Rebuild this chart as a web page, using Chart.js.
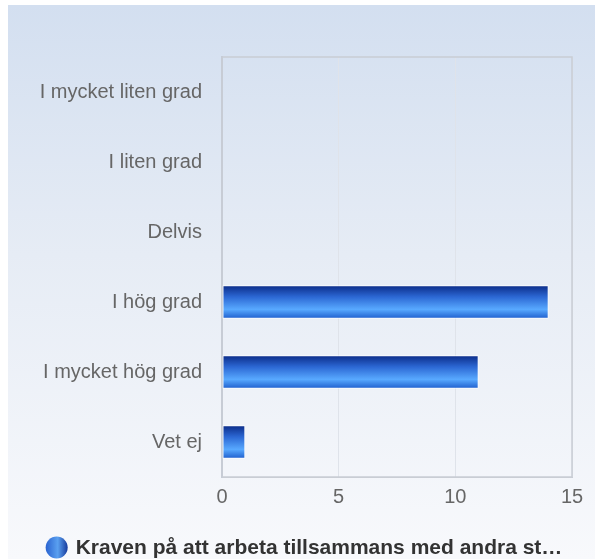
<!DOCTYPE html>
<html>
<head>
<meta charset="utf-8">
<script src="https://cdn.jsdelivr.net/npm/chart.js@4"></script>
<style>
  html, body { margin: 0; padding: 0; background: #fff; }
  #wrap {
    position: absolute; left: 8px; top: 5px; width: 587px; height: 554px;
    background: linear-gradient(to bottom, #d3dff0 0%, #e6ecf5 45%, #f8f9fc 100%);
  }
</style>
</head>
<body>
<div id="wrap"><canvas id="grafico" width="587" height="554"></canvas></div>
<script>
// Dados do gráfico
const categorias = ['I mycket liten grad', 'I liten grad', 'Delvis', 'I hög grad', 'I mycket hög grad', 'Vet ej'];
const valores = [0, 0, 0, 14, 11, 1];
const ticksX = [0, 5, 10, 15];
const serieNome = 'Kraven på att arbeta tillsammans med andra st…';

const fatorBarra = 0.48;
const fonte = '"Liberation Sans", Arial, sans-serif';

// Gradiente vertical de cada barra
function corBarra(ctx) {
    const chart = ctx.chart;
    const y = chart.scales.y;
    if (!y || ctx.dataIndex === undefined || !chart.chartArea) return '#2a6ad8';
    const centro = y.getPixelForValue(ctx.dataIndex);
    const meia = (y.height / categorias.length) * fatorBarra / 2;
    const g = chart.ctx.createLinearGradient(0, centro - meia, 0, centro + meia);
    g.addColorStop(0, '#0a2a86');
    g.addColorStop(0.35, '#2c68d4');
    g.addColorStop(0.72, '#58a9ff');
    g.addColorStop(1, '#1c5ccc');
    return g;
}

// Moldura da área do gráfico
const moldura = {
    id: 'moldura',
    beforeDatasetsDraw(chart) {
        const { ctx, chartArea: a } = chart;
        ctx.save();
        ctx.strokeStyle = '#c9cdd4';
        ctx.lineWidth = 1.5;
        ctx.strokeRect(a.left, a.top, a.right - a.left, a.bottom - a.top);
        ctx.restore();
    }
};

// Legenda desenhada embaixo (círculo + nome da série)
const legenda = {
    id: 'legenda',
    afterDraw(chart) {
        const ctx = chart.ctx;
        ctx.save();
        ctx.font = 'bold 21px ' + fonte;
        const w = ctx.measureText(serieNome).width;
        const total = 22 + 8 + w;
        const x0 = chart.width / 2 + 2.5 - total / 2;
        const yc = 542.5;
        const g = ctx.createLinearGradient(x0, 0, x0 + 22, 0);
        g.addColorStop(0, '#2a63d0');
        g.addColorStop(0.55, '#5aa0f0');
        g.addColorStop(1, '#163a9c');
        ctx.fillStyle = g;
        ctx.beginPath();
        ctx.arc(x0 + 11, yc, 11, 0, Math.PI * 2);
        ctx.fill();
        ctx.fillStyle = '#333';
        ctx.textBaseline = 'middle';
        ctx.fillText(serieNome, x0 + 30, yc + 1);
        ctx.restore();
    }
};

const ctx = document.getElementById('grafico').getContext('2d');
Chart.defaults.font.family = fonte;

const grafico = new Chart(ctx, {
    type: 'bar',
    data: {
        labels: categorias,
        datasets: [{
            label: serieNome,
            data: valores,
            backgroundColor: corBarra,
            borderColor: 'rgba(255,255,255,0.85)',
            borderWidth: 1,
            borderSkipped: false,
            barPercentage: fatorBarra,
            categoryPercentage: 1
        }]
    },
    options: {
        indexAxis: 'y',
        responsive: false,
        animation: false,
        layout: { padding: { top: 52, right: 23, left: 0, bottom: 0 } },
        plugins: {
            tooltip: { enabled: false },
            legend: { display: false }
        },
        scales: {
            x: {
                min: 0,
                max: 15,
                afterBuildTicks(scale) {
                    scale.ticks = ticksX.map(v => ({ value: v }));
                },
                afterFit(scale) { scale.height = 82; },
                grid: { color: '#dfe3ea', lineWidth: 1, drawTicks: false },
                border: { display: true, color: '#c9cdd4', width: 1 },
                ticks: { color: '#666', font: { size: 20 }, padding: 8 }
            },
            y: {
                afterFit(scale) { scale.width = 214; },
                grid: { display: false, drawTicks: false },
                border: { display: true, color: '#c2cadb', width: 2 },
                ticks: { color: '#666', font: { size: 20 }, padding: 20 }
            }
        }
    },
    plugins: [moldura, legenda]
});
</script>
</body>
</html>
